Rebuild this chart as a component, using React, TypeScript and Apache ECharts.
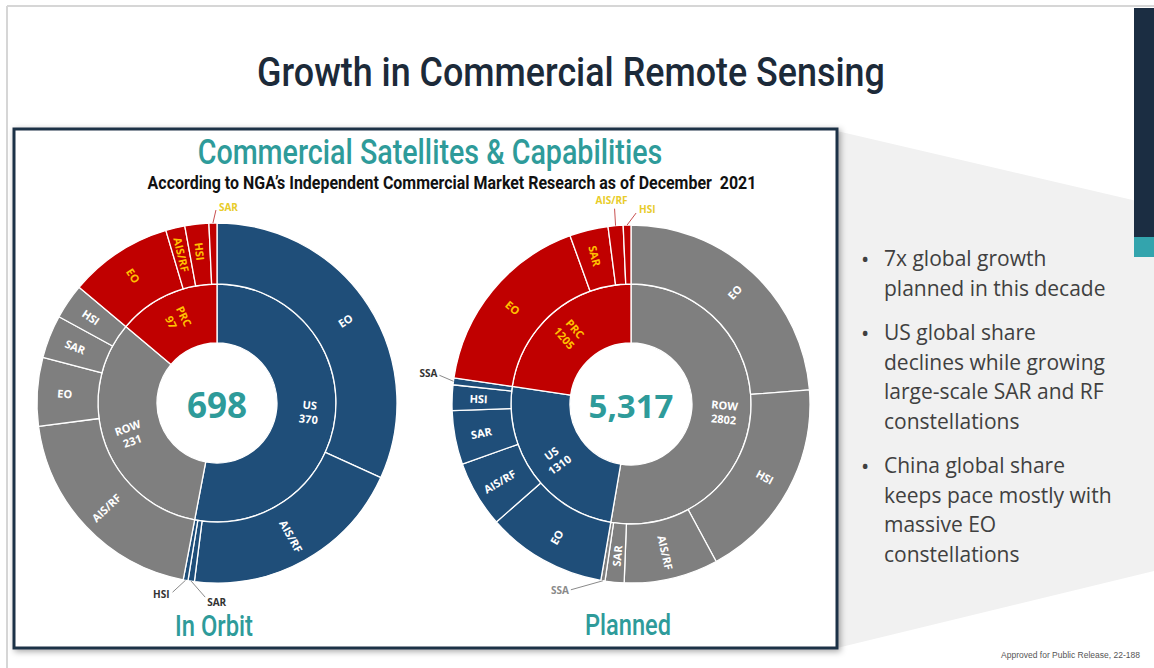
import React, { useEffect, useRef } from "react";
import * as echarts from "echarts";

// ---------- DATA ----------
const orbitRegions = ["US", "ROW", "PRC"];
const orbitRegionValues = [370, 231, 97];
const orbitUSCaps = ["EO", "AIS/RF", "SAR", "HSI"];
const orbitUSValues = [222, 141, 4, 3];
const orbitROWCaps = ["AIS/RF", "EO", "SAR", "HSI"];
const orbitROWValues = [139, 43, 27, 22];
const orbitPRCCaps = ["EO", "AIS/RF", "HSI", "SAR"];
const orbitPRCValues = [65, 12, 15, 5];

const plannedRegions = ["ROW", "US", "PRC"];
const plannedRegionValues = [2802, 1310, 1205];
const plannedROWCaps = ["EO", "HSI", "AIS/RF", "SAR", "SSA"];
const plannedROWValues = [1262, 977, 452, 91, 20];
const plannedUSCaps = ["EO", "AIS/RF", "SAR", "HSI", "SSA"];
const plannedUSValues = [577, 319, 258, 123, 33];
const plannedPRCCaps = ["EO", "SAR", "AIS/RF", "HSI"];
const plannedPRCValues = [911, 185, 72, 37];

const bullets = [
  ["7x global growth", "planned in this decade"],
  ["US global share", "declines while growing", "large-scale SAR and RF", "constellations"],
  ["China global share", "keeps pace mostly with", "massive EO", "constellations"],
];

// ---------- STYLE ----------
const W = 1154;
const H = 668;
const NAVY = "#1f4e79";
const RED = "#c00000";
const GREY = "#7f7f7f";
const TEAL = "#2e9b9a";
const GOLD = "#ffc000";
const regionColor: Record<string, string> = { US: NAVY, PRC: RED, ROW: GREY };
const COND = "Roboto,sans-serif";
const SANS = '"Open Sans","Noto Sans",sans-serif';

type Cap = { names: string[]; values: number[] };
type OutLabel = {
  region: string; cap: string; ldx: number; ldy: number; tdx: number; tdy: number;
  align: string; color: string; line: string;
};
type Donut = {
  cx: number; cy: number; r0: number; r1: number; r2: number;
  regions: string[]; regionValues: number[]; caps: Record<string, Cap>;
  outside: OutLabel[]; totalSize: number; caption: string; captionY: number; captionW: number;
};

const orbit: Donut = {
  cx: 217, cy: 403, r0: 60, r1: 119, r2: 180,
  regions: orbitRegions, regionValues: orbitRegionValues,
  caps: {
    US: { names: orbitUSCaps, values: orbitUSValues },
    ROW: { names: orbitROWCaps, values: orbitROWValues },
    PRC: { names: orbitPRCCaps, values: orbitPRCValues },
  },
  outside: [
    { region: "PRC", cap: "SAR", ldx: 3, ldy: -13, tdx: 3, tdy: -3, align: "left", color: "#e8cc2a", line: "#c85050" },
    { region: "US", cap: "HSI", ldx: -13, ldy: 12, tdx: -3, tdy: 2, align: "right", color: "#333", line: "#8a8a8a" },
    { region: "US", cap: "SAR", ldx: 14, ldy: 16, tdx: 2, tdy: 5, align: "left", color: "#333", line: "#8a8a8a" },
  ],
  totalSize: 35, caption: "In Orbit", captionY: 626, captionW: 78,
};

const planned: Donut = {
  cx: 631, cy: 404, r0: 61, r1: 120, r2: 179,
  regions: plannedRegions, regionValues: plannedRegionValues,
  caps: {
    ROW: { names: plannedROWCaps, values: plannedROWValues },
    US: { names: plannedUSCaps, values: plannedUSValues },
    PRC: { names: plannedPRCCaps, values: plannedPRCValues },
  },
  outside: [
    { region: "PRC", cap: "AIS/RF", ldx: -1, ldy: -17, tdx: -3, tdy: -9, align: "center", color: "#e8cc2a", line: "#c85050" },
    { region: "PRC", cap: "HSI", ldx: 9, ldy: -12, tdx: 3, tdy: -4, align: "left", color: "#e8cc2a", line: "#c85050" },
    { region: "US", cap: "SSA", ldx: -14, ldy: -6, tdx: -2, tdy: -2, align: "right", color: "#333", line: "#8a8a8a" },
    { region: "ROW", cap: "SSA", ldx: -32, ldy: 9, tdx: -2, tdy: 0, align: "right", color: "#8a8a8a", line: "#8a8a8a" },
  ],
  totalSize: 33, caption: "Planned", captionY: 625, captionW: 86,
};

let measureCtx: CanvasRenderingContext2D | null = null;
function fitScale(text: string, size: number, family: string, weight: string | number, target: number) {
  if (!measureCtx) measureCtx = document.createElement("canvas").getContext("2d");
  if (!measureCtx) return 1;
  measureCtx.font = `${weight} ${size}px ${family}`;
  const w = measureCtx.measureText(text).width;
  return w > 0 ? target / w : 1;
}

function txt(x: number, y: number, text: string, o: any = {}) {
  const family = o.family ?? SANS;
  const size = o.size ?? 12;
  const weight = o.weight ?? "normal";
  const scaleX = o.fit ? fitScale(text, size, family, weight, o.fit) : 1;
  return {
    type: "text", x, y, z: o.z ?? 5, silent: true, scaleX,
    style: {
      text, fill: o.fill ?? "#000", fontSize: size, fontFamily: family,
      fontWeight: weight, align: o.align ?? "left", textAlign: o.align ?? "left",
      verticalAlign: "middle", textVerticalAlign: "middle",
    },
  };
}

function buildDonut(d: Donut) {
  const innerData = d.regions.map((r, i) => ({
    name: r, value: d.regionValues[i],
    itemStyle: { color: regionColor[r] },
    label: { color: r === "PRC" ? GOLD : "#fff" },
  }));
  const hidden = new Set(d.outside.map((o) => o.region + "|" + o.cap));
  const outerData: any[] = [];
  d.regions.forEach((r) => {
    const c = d.caps[r];
    c.names.forEach((n, j) => {
      outerData.push({
        name: n, value: c.values[j], region: r,
        itemStyle: { color: regionColor[r] },
        label: { show: !hidden.has(r + "|" + n), color: r === "PRC" ? GOLD : "#fff" },
      });
    });
  });
  const total = d.regionValues.reduce((a, b) => a + b, 0);
  const outerTotal = outerData.reduce((a, b) => a + b.value, 0);

  const base = {
    type: "pie", center: [d.cx, d.cy], startAngle: 90, clockwise: true,
    avoidLabelOverlap: false, silent: true, animation: false,
    labelLine: { show: false },
    labelLayout: { hideOverlap: false },
    itemStyle: { borderColor: "#ffffff", borderWidth: 1.3 },
  };
  const series = [
    {
      ...base, radius: [d.r0, d.r1], data: innerData,
      label: { position: "inside", rotate: "radial", formatter: "{b}\n{c}", fontSize: 11, fontWeight: "bold", fontFamily: SANS, lineHeight: 14 },
    },
    {
      ...base, radius: [d.r1, d.r2], data: outerData,
      label: { position: "inside", rotate: "radial", formatter: "{b}", fontSize: 11, fontWeight: "bold", fontFamily: SANS },
    },
  ];

  const graphics: any[] = [];
  let cum = 0;
  outerData.forEach((item) => {
    const mid = ((cum + item.value / 2) / outerTotal) * Math.PI * 2;
    cum += item.value;
    const spec = d.outside.find((o) => o.region === item.region && o.cap === item.name);
    if (!spec) return;
    const ax = d.cx + d.r2 * Math.sin(mid);
    const ay = d.cy - d.r2 * Math.cos(mid);
    const ex = ax + spec.ldx;
    const ey = ay + spec.ldy;
    graphics.push({ type: "line", z: 3, silent: true, shape: { x1: ax, y1: ay, x2: ex, y2: ey }, style: { stroke: spec.line, lineWidth: 1 } });
    graphics.push(txt(ex + spec.tdx, ey + spec.tdy, item.name, { fill: spec.color, size: 10, weight: "bold", align: spec.align }));
  });
  graphics.push(txt(d.cx, d.cy + 1, total.toLocaleString("en-US"), { fill: TEAL, size: d.totalSize, weight: "bold", align: "center" }));
  graphics.push(txt(d.cx - 3, d.captionY, d.caption, { fill: TEAL, size: 30, family: COND, weight: 500, align: "center", fit: d.captionW }));
  return { series, graphics };
}

export default function App() {
  const ref = useRef<HTMLDivElement>(null);
  useEffect(() => {
    if (!ref.current) return;
    const chart = echarts.init(ref.current, null, { renderer: "svg" });
    const a = buildDonut(orbit);
    const b = buildDonut(planned);

    const bg: any[] = [
      { type: "rect", z: 0, silent: true, shape: { x: 0, y: 0, width: W, height: H }, style: { fill: "#ffffff" } },
      { type: "line", z: 0, silent: true, shape: { x1: 7, y1: 6, x2: W, y2: 6 }, style: { stroke: "#d6d6d6", lineWidth: 2 } },
      { type: "line", z: 0, silent: true, shape: { x1: 7, y1: 6, x2: 7, y2: H }, style: { stroke: "#d6d6d6", lineWidth: 2 } },
      { type: "polygon", z: 0, silent: true, shape: { points: [[837, 131], [W, 205], [W, 571], [837, 648]] }, style: { fill: "#f1f1f1" } },
      { type: "rect", z: 0, silent: true, shape: { x: 1134, y: 8, width: 20, height: 229 }, style: { fill: "#1b2d42" } },
      { type: "rect", z: 0, silent: true, shape: { x: 1134, y: 237, width: 20, height: 20 }, style: { fill: "#33a4ad" } },
      {
        type: "rect", z: 1, silent: true, shape: { x: 14, y: 129, width: 823, height: 519 },
        style: { fill: "#ffffff", stroke: "#1f3146", lineWidth: 3, shadowBlur: 6, shadowColor: "rgba(0,0,0,0.35)", shadowOffsetX: 2, shadowOffsetY: 2 },
      },
      txt(571, 72, "Growth in Commercial Remote Sensing", { fill: "#1c2a39", size: 41, family: COND, weight: 500, align: "center", fit: 628 }),
      txt(430, 152, "Commercial Satellites & Capabilities", { fill: TEAL, size: 35, family: COND, weight: 500, align: "center", fit: 465 }),
      txt(452, 183, "According to NGA\u2019s Independent Commercial Market Research as of December  2021", { fill: "#111", size: 18.5, family: COND, weight: "bold", align: "center", fit: 609 }),
      txt(1140, 655, "Approved for Public Release, 22-188", { fill: "#555", size: 8.5, family: '"Liberation Sans",Arial,sans-serif', align: "right" }),
    ];
    let y = 258;
    bullets.forEach((lines) => {
      bg.push(txt(861, y, "\u2022", { fill: "#404040", size: 22 }));
      lines.forEach((l) => {
        bg.push(txt(884, y, l, { fill: "#404040", size: 21 }));
        y += 29.5;
      });
      y += 15;
    });

    chart.setOption({
      animation: false,
      backgroundColor: "#ffffff",
      series: [...a.series, ...b.series],
      graphic: { elements: [...bg, ...a.graphics, ...b.graphics] },
    });
    return () => chart.dispose();
  }, []);
  return <div ref={ref} style={{ position: "absolute", left: 0, top: 0, width: W, height: H }} />;
}
